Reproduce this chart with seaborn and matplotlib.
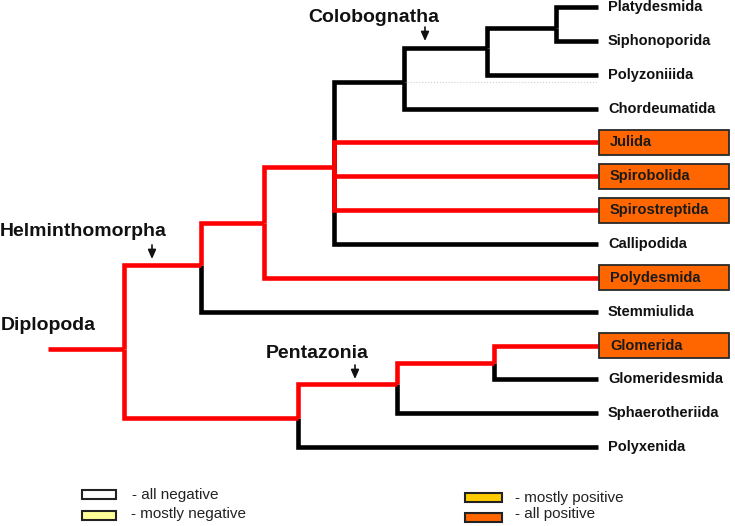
import matplotlib
matplotlib.use("Agg")
import matplotlib.pyplot as plt
import seaborn as sns
import pandas as pd
from matplotlib.patches import Rectangle

# tips, top to bottom
leaves = ["Platydesmida", "Siphonoporida", "Polyzoniiida", "Chordeumatida",
          "Julida", "Spirobolida", "Spirostreptida", "Callipodida",
          "Polydesmida", "Stemmiulida", "Glomerida", "Glomeridesmida",
          "Sphaerotheriida", "Polyxenida"]
positive = ["Julida", "Spirobolida", "Spirostreptida", "Polydesmida", "Glomerida"]

# internal nodes and their children
nodes = ["F", "E", "D", "C", "B", "A", "R", "Q", "P", "root"]
children = {
    "F": ["Platydesmida", "Siphonoporida"],
    "E": ["F", "Polyzoniiida"],
    "D": ["E", "Chordeumatida"],
    "C": ["D", "Julida", "Spirobolida", "Spirostreptida", "Callipodida"],
    "B": ["C", "Polydesmida"],
    "A": ["B", "Stemmiulida"],
    "R": ["Glomerida", "Glomeridesmida"],
    "Q": ["R", "Sphaerotheriida"],
    "P": ["Q", "Polyxenida"],
    "root": ["A", "P"],
}
node_depth = {"root": 124, "A": 201, "B": 264, "C": 334, "D": 404, "E": 487,
              "F": 556, "P": 298, "Q": 397, "R": 494}
# where each node sits vertically, in tip rows
node_row = {"F": 0.62, "E": 1.21, "D": 2.22, "C": 4.73, "B": 6.38, "A": 7.62,
            "R": 10.52, "Q": 11.14, "P": 12.14, "root": 10.1}
tip_depth = 598
stem_start = 48
red_nodes = ["root", "A", "B", "C", "P", "Q", "R"]

legend_labels = ["- all negative", "- mostly negative", "- mostly positive", "- all positive"]
legend_colors = ["#ffffff", "#ffff99", "#ffcc00", "#ff6600"]

RED = "#ff0000"
ORANGE = "#ff6600"

ypos = {name: i for i, name in enumerate(leaves)}
xpos = {name: tip_depth for name in leaves}
ypos.update(node_row)
xpos.update(node_depth)

rows = []
for n in nodes:
    for c in children[n]:
        col = "red" if (c in red_nodes or c in positive) else "black"
        eid = n + "-" + c
        for x, y in [(xpos[n], ypos[n]), (xpos[n], ypos[c]), (xpos[c], ypos[c])]:
            rows.append(dict(edge=eid, x=x, y=y, col=col))
for x in [stem_start, xpos["root"]]:
    rows.append(dict(edge="stem", x=x, y=ypos["root"], col="red"))
edges = pd.DataFrame(rows)

sns.set_theme(style="white")
plt.rcParams["font.family"] = ["Liberation Sans", "DejaVu Sans"]

fig = plt.figure(figsize=(7.35, 5.26), dpi=100)
ax = fig.add_axes([0, 0, 1, 1])
ax.set_xlim(0, 735)
ax.set_ylim(15.33, -0.207)
ax.axis("off")

# faint dotted guide under Colobognatha
ax.plot([xpos["D"], tip_depth], [ypos["D"], ypos["D"]], color="#d0d0d0",
        lw=0.8, ls=":", zorder=1)

for col, c in [("black", "black"), ("red", RED)]:
    sns.lineplot(data=edges[edges.col == col], x="x", y="y", units="edge",
                 estimator=None, sort=False, color=c, lw=3.3, ax=ax,
                 solid_capstyle="butt", solid_joinstyle="miter", zorder=2)
ax.set_xlabel("")
ax.set_ylabel("")

for name in leaves:
    y = ypos[name]
    if name in positive:
        ax.add_patch(Rectangle((tip_depth + 1.5, y - 0.37), 130, 0.74,
                               facecolor=ORANGE, edgecolor="#2a2a2a", lw=1.3, zorder=3))
        ax.text(tip_depth + 12, y, name, va="center", ha="left", fontsize=10.5,
                fontweight="bold", color="#1a1a1a", zorder=4)
    else:
        ax.text(tip_depth + 10, y, name, va="center", ha="left", fontsize=10.5,
                fontweight="bold", color="#111111")

# overlay in pixel units for clade labels and legend
ov = fig.add_axes([0, 0, 1, 1])
ov.set_xlim(0, 735)
ov.set_ylim(526, 0)
ov.axis("off")
ov.patch.set_alpha(0)

clades = [("Colobognatha", 374, 17, "center", 425, 27),
          ("Helminthomorpha", 0, 232, "left", 152, 245),
          ("Diplopoda", 1, 325, "left", None, None),
          ("Pentazonia", 317, 353, "center", 355, 365)]
for label, tx, ty, ha, axx, ay in clades:
    ov.text(tx, ty, label, ha=ha, va="center", fontsize=14, fontweight="bold",
            color="#111111")
    if axx is not None:
        ov.annotate("", xy=(axx, ay + 14), xytext=(axx, ay),
                    arrowprops=dict(arrowstyle="-|>,head_length=0.45,head_width=0.2",
                                    color="#111111", lw=1.2, shrinkA=0, shrinkB=0))

# legend: box position, box width, text position
leg_boxes = [(82, 490, 34), (82, 511, 34), (465, 493, 37), (465, 513, 37)]
leg_text = [(132, 495), (131, 514), (515, 498), (515, 514)]
for (bx, by, bw), (tx, ty), lab, fc in zip(leg_boxes, leg_text, legend_labels, legend_colors):
    ov.add_patch(Rectangle((bx, by), bw, 9, facecolor=fc, edgecolor="#222222", lw=1.5))
    ov.text(tx, ty, lab, ha="left", va="center", fontsize=11, color="#222222")

fig.savefig("out.png", dpi=100)
